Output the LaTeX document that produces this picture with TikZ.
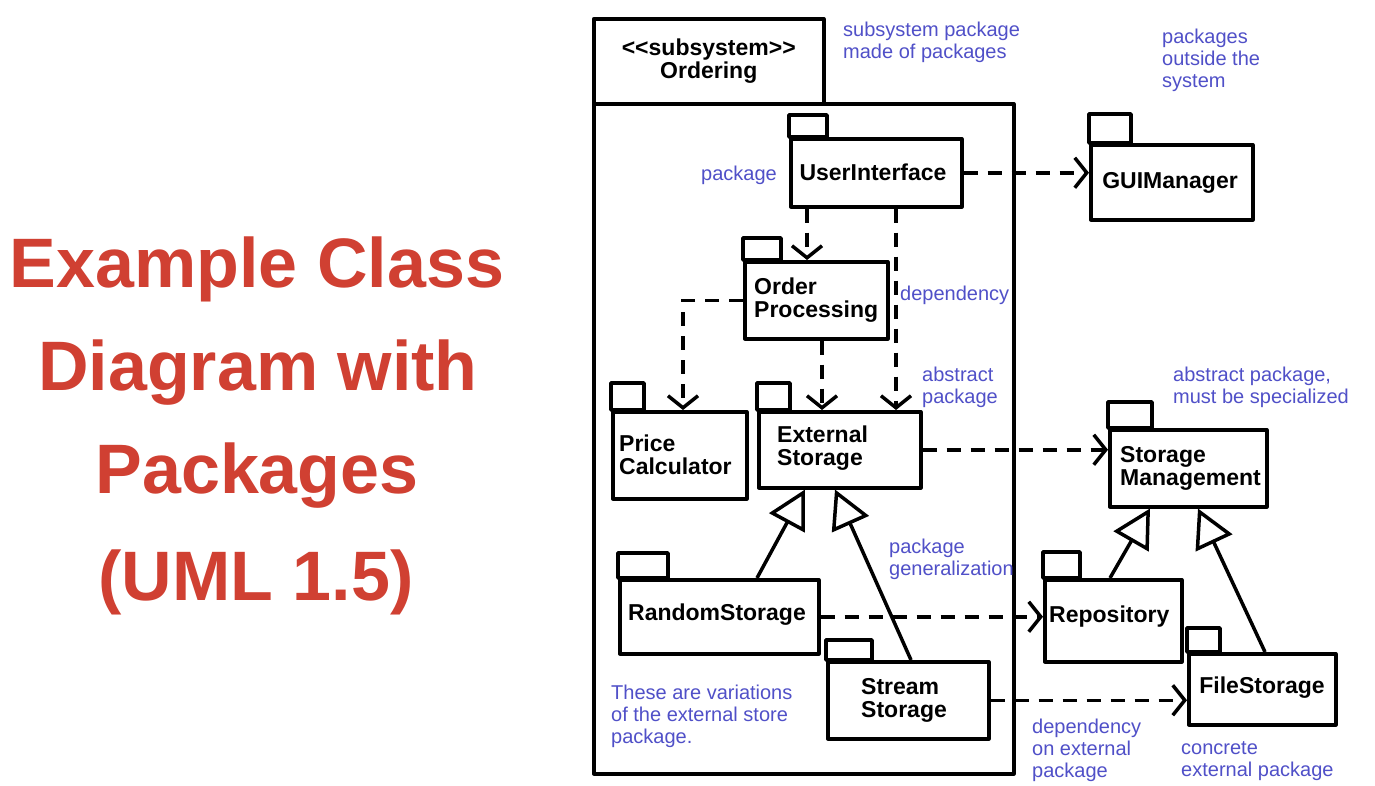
\documentclass[tikz,border=0pt]{standalone}
\usepackage{fontspec}
\setmainfont{Liberation Sans}
\usetikzlibrary{arrows.meta}
\definecolor{annot}{RGB}{80,80,200}
\definecolor{titlered}{RGB}{208,64,50}
\newcommand\pkgdraw[7]{%
  \node[box,anchor=north west,minimum width=#4pt,minimum height=#5pt] (#1) at (#2,#3) {};
  \draw[tabline] (#1.north west) rectangle ++(#6,-#7);}
\begin{document}
\begin{tikzpicture}[x=1pt,y=-1pt,
  box/.style={draw=black,line width=3.5pt,fill=white,inner sep=0pt,line join=round},
  tabline/.style={draw=black,line width=3.5pt,line join=round},
  lbl/.style={font=\bfseries\fontsize{23}{23}\selectfont,inner sep=0pt,align=left},
  note/.style={text=annot,font=\fontsize{20}{22}\selectfont,inner sep=0pt,align=left,anchor=west},
  ttl/.style={text=titlered,font=\bfseries\fontsize{70}{80}\selectfont,inner sep=0pt,anchor=base},
  dep/.style={line width=3.5pt,dash pattern=on 14pt off 10pt,-{Straight Barb[length=12pt,width=30pt]}},
  gen/.style={line width=3.5pt,-{Triangle[open,length=38pt,width=40pt]}}]
\useasboundingbox (0,0) rectangle (1375,785);
\fill[white] (0,0) rectangle (1375,785);

% title
\node[ttl] (t1) at (257,287) {Example Class};
\node[ttl] (t2) at (258,390) {Diagram with};
\node[ttl] (t3) at (257,493) {Packages};
\node[ttl] (t4) at (256,600) {(UML 1.5)};

% subsystem
\node[box,anchor=north west,minimum width=420pt,minimum height=670pt] (subsys) at (592,102) {};
\node[box,lbl,align=center,anchor=north west,minimum width=230pt,minimum height=85pt] (subtab) at (592,17) {<{}<subsystem>{}>\\Ordering};

% packages
\pkgdraw{ui}{789}{137}{171}{68}{38}{22}
\pkgdraw{gui}{1089}{143}{162}{75}{42}{29}
\pkgdraw{op}{743}{260}{143}{77}{38}{22}
\pkgdraw{pc}{611}{410}{134}{87}{33}{27}
\pkgdraw{ext}{757}{410}{162}{76}{33}{27}
\pkgdraw{sm}{1108}{428}{157}{77}{44}{26}
\pkgdraw{rs}{618}{578}{199}{74}{50}{25}
\pkgdraw{ss}{826}{660}{161}{77}{46}{20}
\pkgdraw{repo}{1043}{578}{137}{82}{37}{26}
\pkgdraw{fs}{1187}{652}{147}{71}{33}{24}

% package labels
\node[lbl] (uiT) at (873,172) {UserInterface};
\node[lbl] (guiT) at (1170,183) {GUIManager};
\node[lbl,anchor=west] (opT) at (754,300) {Order\\Processing};
\node[lbl,anchor=west] (pcT) at (619,455) {Price\\Calculator};
\node[lbl,anchor=west] (extT) at (777,448) {External\\Storage};
\node[lbl,anchor=west] (smT) at (1120,468) {Storage\\Management};
\node[lbl] (rsT) at (717,615) {RandomStorage};
\node[lbl,anchor=west] (ssT) at (861,700) {Stream\\Storage};
\node[lbl,anchor=west] (repoT) at (1049,617) {Repository};
\node[lbl] (fsT) at (1262,688) {FileStorage};

% dependencies
\draw[dep] (ui.east) -- (ui.east -| gui.west);
\draw[dep] ([xshift=18pt]ui.south west) -- ([xshift=18pt]ui.south west |- op.north);
\draw[dep] ([xshift=107pt]ui.south west) -- ([xshift=107pt]ui.south west |- ext.north);
\draw[dep] (op.west) -| ([xshift=72pt]pc.north west);
\draw[dep] ([xshift=79pt]op.south west) -- ([xshift=79pt]op.south west |- ext.north);
\draw[dep] (ext.east) -- (ext.east -| sm.west);
\draw[dep] (rs.east) -- (rs.east -| repo.west);
\draw[dep] (ss.east) -- (ss.east -| fs.west);

% generalizations
\draw[gen] ([xshift=139pt]rs.north west) -- ([xshift=48pt]ext.south west);
\draw[gen] ([xshift=85pt]ss.north west) -- ([xshift=78pt]ext.south west);
\draw[gen] ([xshift=67pt]repo.north west) -- ([xshift=42pt]sm.south west);
\draw[gen] ([xshift=78pt]fs.north west) -- ([xshift=90pt]sm.south west);

% annotations
\node[note] (n1) at (843,42) {subsystem package\\made of packages};
\node[note] (n2) at (1162,60) {packages\\outside the\\system};
\node[note,anchor=east] (n3) at (777,175) {package};
\node[note] (n4) at (900,295) {dependency};
\node[note] (n5) at (922,387) {abstract\\package};
\node[note] (n6) at (1173,387) {abstract package,\\must be specialized};
\node[note] (n7) at (889,559) {package\\generalization};
\node[note] (n8) at (611,716) {These are variations\\of the external store\\package.};
\node[note] (n9) at (1032,750) {dependency\\on external\\package};
\node[note] (n10) at (1181,761) {concrete\\external package};
\end{tikzpicture}
\end{document}
